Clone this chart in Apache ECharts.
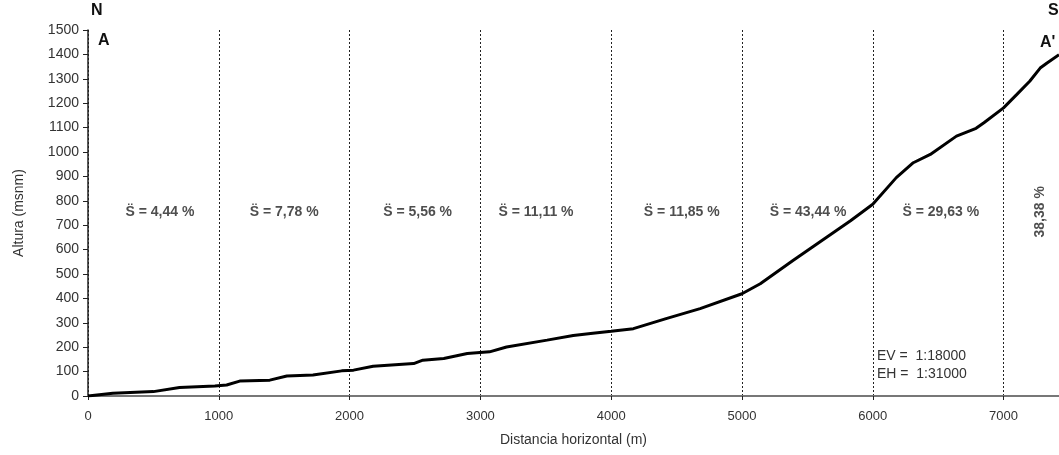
<!DOCTYPE html>
<html>
<head>
<meta charset="utf-8">
<script src="https://cdn.jsdelivr.net/npm/echarts@6/dist/echarts.min.js"></script>
<style>
  html, body { margin: 0; padding: 0; background: #fff; }
  #chart { width: 1059px; height: 455px; }
</style>
</head>
<body>
<div id="chart"></div>
<script>
// perfil topografico N-S (A - A')
const distancia = [0, 190, 500, 700, 970, 1060, 1160, 1390, 1520, 1720, 1940, 2030, 2180, 2490, 2560, 2720, 2900, 3070, 3200, 3510, 3710, 3860, 4000, 4170, 4420, 4680, 5000, 5140, 5390, 5700, 5830, 6000, 6180, 6310, 6440, 6640, 6790, 6850, 7000, 7100, 7200, 7280, 7330, 7424];
const altura = [0, 11, 18, 35, 41, 45, 61, 65, 82, 86, 103, 106, 122, 133, 147, 154, 174, 181, 201, 229, 248, 257, 265, 276, 317, 358, 419, 460, 555, 670, 718, 786, 895, 956, 990, 1065, 1097, 1120, 1181, 1235, 1290, 1344, 1364, 1399];

// pendiente media por tramo
const pendientes = ["S\u0308 = 4,44 %", "S\u0308 = 7,78 %", "S\u0308 = 5,56 %", "S\u0308 = 11,11 %", "S\u0308 = 11,85 %", "S\u0308 = 43,44 %", "S\u0308 = 29,63 %"];
const pendienteX = [550, 1500, 2520, 3425, 4540, 5505, 6520];
const ultimoTramo = "38,38 %";
const ultimoTramoX = 7280;
const etiquetaY = 755;

const lineData = distancia.map((d, i) => [d, altura[i]]);
const labelData = pendienteX.map((d, i) => ({ value: [d, etiquetaY], name: pendientes[i] }));

var color = "#333";
var font = "Liberation Sans, Arial, sans-serif";
var chart = echarts.init(document.getElementById("chart"));
var option = {
  animation: false,
  grid: { left: 88, top: 30, right: 0, bottom: 59 },
  textStyle: { fontFamily: font },
  xAxis: [
    {
      type: "value",
      min: 0,
      max: 7424,
      interval: 1000,
      name: "Distancia horizontal (m)",
      nameLocation: "middle",
      nameGap: 37,
      nameTextStyle: { color: color, fontSize: 14 },
      axisLine: { show: true, onZero: false, lineStyle: { color: "#222", width: 1.5 } },
      axisTick: { show: true, length: 4, lineStyle: { color: "#222" } },
      axisLabel: { color: color, fontSize: 13, margin: 14, showMaxLabel: false, formatter: (v) => String(v) },
      splitLine: { show: true, lineStyle: { color: "#222", type: [2, 2], width: 1 } },
    },
    {
      type: "value",
      position: "top",
      min: 0,
      max: 7424,
      axisLine: { show: true, lineStyle: { color: "#777", width: 2 } },
      axisTick: { show: false },
      axisLabel: { show: false },
      splitLine: { show: false },
    },
  ],
  yAxis: {
    type: "value",
    min: 0,
    max: 1500,
    interval: 100,
    name: "Altura (msnm)",
    nameLocation: "middle",
    nameGap: 62,
    nameTextStyle: { color: color, fontSize: 14 },
    axisLine: { show: true, lineStyle: { color: "#222", width: 1.5 } },
    axisTick: { show: true, length: 5, lineStyle: { color: "#222" } },
    axisLabel: { color: color, fontSize: 14, margin: 9, formatter: (v) => String(v) },
    splitLine: { show: false },
  },
  series: [
    {
      type: "line",
      data: lineData,
      showSymbol: false,
      lineStyle: { color: "#000", width: 3 },
      z: 3,
    },
    {
      type: "scatter",
      data: labelData,
      symbolSize: 0,
      silent: true,
      label: {
        show: true,
        position: "inside",
        formatter: (p) => p.name,
        color: "#222",
        fontWeight: "bold",
        fontSize: 14,
      },
    },
    {
      type: "scatter",
      data: [{ value: [ultimoTramoX, etiquetaY], name: ultimoTramo }],
      symbolSize: 0,
      silent: true,
      label: {
        show: true,
        position: "inside",
        rotate: 90,
        formatter: (p) => p.name,
        color: "#222",
        fontWeight: "bold",
        fontSize: 14,
      },
    },
  ],
  graphic: [
    { type: "text", left: 91, top: 3, style: { text: "N", fontSize: 16, fontWeight: "bold", fill: "#111", fontFamily: font } },
    { type: "text", left: 98, top: 33, style: { text: "A", fontSize: 16, fontWeight: "bold", fill: "#111", fontFamily: font } },
    { type: "text", left: 1048, top: 3, style: { text: "S", fontSize: 16, fontWeight: "bold", fill: "#111", fontFamily: font } },
    { type: "text", left: 1040, top: 35, style: { text: "A'", fontSize: 16, fontWeight: "bold", fill: "#111", fontFamily: font } },
    { type: "text", left: 877, top: 349, style: { text: "EV =  1:18000", fontSize: 14, fill: "#333", fontFamily: font } },
    { type: "text", left: 877, top: 367, style: { text: "EH =  1:31000", fontSize: 14, fill: "#333", fontFamily: font } },
  ],
};
chart.setOption(option);
</script>
</body>
</html>
